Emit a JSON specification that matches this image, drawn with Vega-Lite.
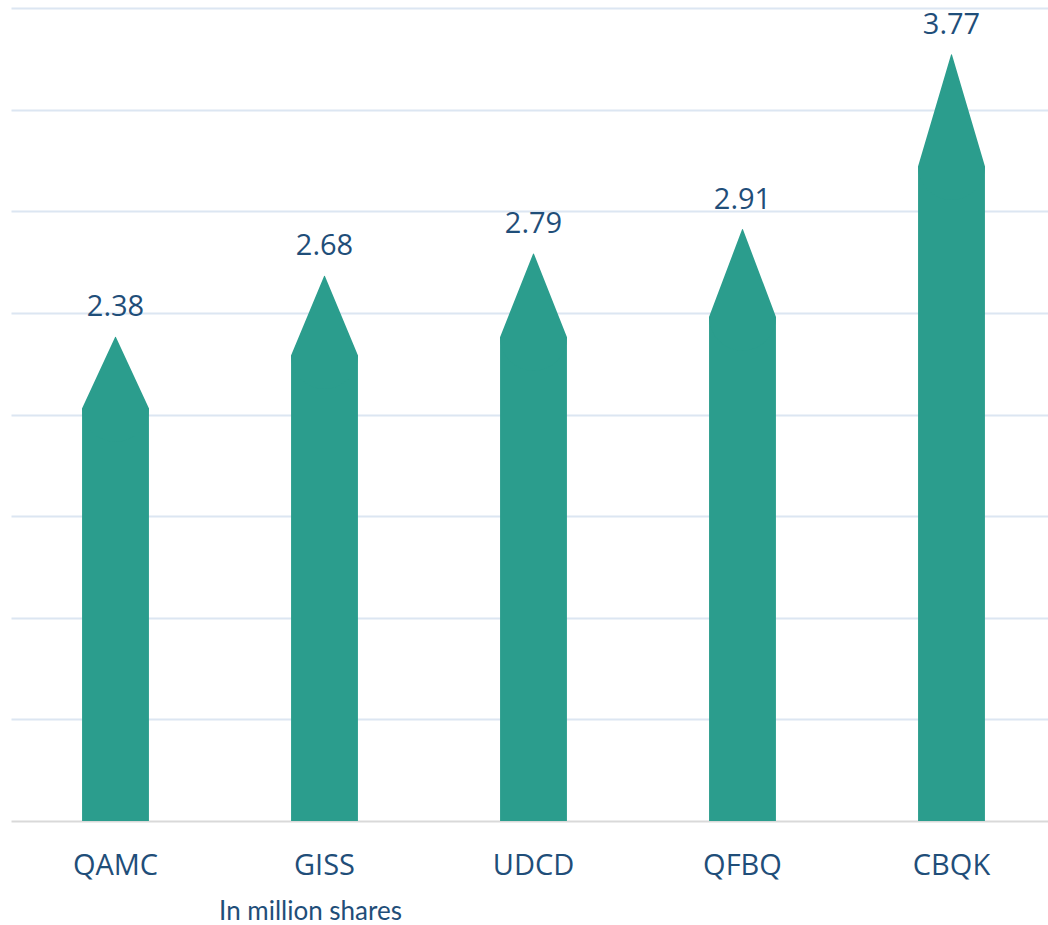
{
  "$schema": "https://vega.github.io/schema/vega-lite/v6.json",
  "width": 1045,
  "height": 813,
  "autosize": {"type": "none"},
  "padding": {"left": 11, "top": 8, "right": 0, "bottom": 104},
  "background": "white",
  "config": {"view": {"stroke": null}},
  "data": {
    "values": [
      {"name": "QAMC", "value": 2.38, "shoulder": 2.03},
      {"name": "GISS", "value": 2.68, "shoulder": 2.29},
      {"name": "UDCD", "value": 2.79, "shoulder": 2.38},
      {"name": "QFBQ", "value": 2.91, "shoulder": 2.48},
      {"name": "CBQK", "value": 3.77, "shoulder": 3.22}
    ]
  },
  "encoding": {
    "x": {
      "field": "name",
      "type": "nominal",
      "sort": null,
      "scale": {"paddingInner": 0.68, "paddingOuter": 0.34},
      "axis": {
        "title": "In million shares",
        "labelAngle": 0,
        "labelFont": "Open Sans",
        "labelFontSize": 29,
        "labelColor": "#1f4e79",
        "labelBaseline": "alphabetic",
        "labelPadding": 53,
        "ticks": false,
        "tickSize": 0,
        "domainColor": "#d9d9d9",
        "domainWidth": 2,
        "titleFont": "Lato",
        "titleFontSize": 26,
        "titleFontWeight": "normal",
        "titleColor": "#1f4e79",
        "titleAlign": "center",
        "titleBaseline": "alphabetic",
        "titleX": 299,
        "titleY": 98
      }
    }
  },
  "layer": [
    {
      "mark": {"type": "bar", "color": "#2b9d8d"},
      "encoding": {
        "y": {
          "field": "shoulder",
          "type": "quantitative",
          "scale": {"domain": [0, 4], "nice": false, "zero": true},
          "axis": {
            "title": null,
            "values": [0.5, 1, 1.5, 2, 2.5, 3, 3.5, 4],
            "labels": false,
            "ticks": false,
            "domain": false,
            "grid": true,
            "gridColor": "#dce6f2",
            "gridWidth": 2
          }
        }
      }
    },
    {
      "transform": [{"fold": ["shoulder", "value"], "as": ["key", "yv"]}],
      "mark": {"type": "trail", "color": "#2b9d8d"},
      "encoding": {
        "y": {"field": "yv", "type": "quantitative"},
        "size": {
          "field": "key",
          "type": "ordinal",
          "scale": {"domain": ["shoulder", "value"], "range": [67, 0]},
          "legend": null
        },
        "detail": {"field": "name"},
        "order": {"field": "yv", "type": "quantitative"}
      }
    },
    {
      "mark": {
        "type": "text",
        "font": "Open Sans",
        "fontSize": 29,
        "color": "#1f4e79",
        "baseline": "alphabetic",
        "dy": -21
      },
      "encoding": {
        "y": {"field": "value", "type": "quantitative"},
        "text": {"field": "value", "type": "quantitative", "format": ".2f"}
      }
    }
  ]
}
